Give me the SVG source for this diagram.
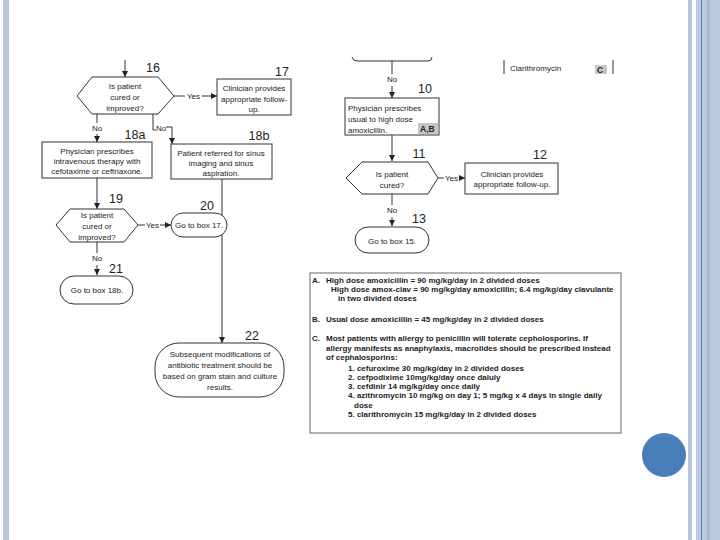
<svg xmlns="http://www.w3.org/2000/svg" width="720" height="540" viewBox="0 0 720 540">
<style>
.t{font-family:"Liberation Sans",Arial,sans-serif;font-size:8px;fill:#222;text-anchor:middle}
.tl{font-family:"Liberation Sans",Arial,sans-serif;font-size:8px;fill:#222}
.n{font-family:"Liberation Sans",Arial,sans-serif;font-size:12.5px;fill:#222;text-anchor:middle}
.nb{font-family:"Liberation Sans",Arial,sans-serif;font-size:8px;font-weight:bold;fill:#222}
.s{fill:#fff;stroke:#333;stroke-width:1}
.c{fill:none;stroke:#333;stroke-width:1}
.a{fill:none;stroke:#333;stroke-width:1;marker-end:url(#ah)}
.lab{fill:#c6c6c6}
</style>
<defs>
<marker id="ah" markerWidth="6" markerHeight="6" refX="6" refY="3" orient="auto" markerUnits="userSpaceOnUse">
<path d="M0,0 L6,3 L0,6 z" fill="#222"/>
</marker>
</defs>
<rect width="720" height="540" fill="#fff"/>
<g id="frame">
<rect x="3" y="0" width="6" height="540" fill="#b8c5da"/>
<rect x="688" y="0" width="4" height="540" fill="#b8c5da"/>
<rect x="696" y="0" width="24" height="540" fill="#bccae0"/>
<rect x="707" y="0" width="3" height="540" fill="#a9b9d3"/>
<rect x="701" y="0" width="1" height="540" fill="#5b7db5"/>
<circle cx="664" cy="455" r="22" fill="#4a7ebb"/>
</g>
<g id="connectors">
<line class="a" x1="125" y1="60" x2="125" y2="77"/>
<line class="c" x1="174" y1="96" x2="185" y2="96"/>
<line class="a" x1="202" y1="96" x2="217" y2="96"/>
<text class="t" x="193.5" y="99">Yes</text>
<line class="c" x1="97" y1="114" x2="97" y2="123"/>
<text class="t" x="97" y="131">No</text>
<line class="a" x1="97" y1="134" x2="97" y2="142"/>
<path class="c" d="M153,114 V130 H156"/>
<text class="t" x="161" y="131">No</text>
<path class="a" d="M166,127 H172 V144"/>
<line class="a" x1="97" y1="178" x2="97" y2="209"/>
<line class="c" x1="138" y1="225" x2="145" y2="225"/>
<line class="a" x1="160" y1="225" x2="171" y2="225"/>
<text class="t" x="152.5" y="228">Yes</text>
<line class="c" x1="97" y1="242" x2="97" y2="253"/>
<text class="t" x="97" y="261">No</text>
<line class="a" x1="97" y1="265" x2="97" y2="275"/>
<line class="a" x1="222" y1="179" x2="222" y2="343"/>
<path class="c" d="M352,57 Q353,61 357,61 H428 Q432,61 432,57"/>
<line class="c" x1="392" y1="61" x2="392" y2="74"/>
<text class="t" x="392" y="82">No</text>
<line class="a" x1="392" y1="86" x2="392" y2="98"/>
<line class="a" x1="392" y1="135" x2="392" y2="161"/>
<line class="c" x1="438" y1="178" x2="444" y2="178"/>
<line class="a" x1="459" y1="178" x2="465" y2="178"/>
<text class="t" x="451.5" y="181">Yes</text>
<line class="c" x1="392" y1="194" x2="392" y2="205"/>
<text class="t" x="392" y="213">No</text>
<line class="a" x1="392" y1="217" x2="392" y2="226"/>
</g>
<g id="n16">
<polygon class="s" points="77,96 92,77 158,77 174,96 158,114 92,114"/>
<text class="t" x="125" y="89">Is patient</text>
<text class="t" x="125" y="100">cured or</text>
<text class="t" x="125" y="111">improved?</text>
<text class="n" x="153" y="72">16</text>
</g>
<g id="n17">
<rect class="s" x="217" y="79" width="74" height="36"/>
<text class="t" x="254" y="91">Clinician provides</text>
<text class="t" x="254" y="102">appropriate follow-</text>
<text class="t" x="254" y="112">up.</text>
<text class="n" x="282" y="76">17</text>
</g>
<g id="n18a">
<rect class="s" x="42" y="142" width="110" height="36"/>
<text class="t" x="97" y="154">Physician prescribes</text>
<text class="t" x="97" y="164">intravenous therapy with</text>
<text class="t" x="97" y="174">cefotaxime or ceftriaxone.</text>
<text class="n" x="135" y="139">18a</text>
</g>
<g id="n18b">
<rect class="s" x="171" y="144" width="101" height="35"/>
<text class="t" x="221" y="156">Patient referred for sinus</text>
<text class="t" x="221" y="166">imaging and sinus</text>
<text class="t" x="221" y="176">aspiration.</text>
<text class="n" x="259" y="140">18b</text>
</g>
<g id="n19">
<polygon class="s" points="56,225 70,209 124,209 138,225 124,242 70,242"/>
<text class="t" x="97" y="218">Is patient</text>
<text class="t" x="97" y="229">cured or</text>
<text class="t" x="97" y="240">improved?</text>
<text class="n" x="116" y="203">19</text>
</g>
<g id="n20">
<rect class="s" x="171" y="213" width="56" height="24" rx="12"/>
<text class="t" x="199" y="228">Go to box 17.</text>
<text class="n" x="207" y="210">20</text>
</g>
<g id="n21">
<rect class="s" x="60" y="276" width="73" height="28" rx="14"/>
<text class="t" x="97" y="293">Go to box 18b.</text>
<text class="n" x="116" y="273">21</text>
</g>
<g id="n22">
<rect class="s" x="155" y="343" width="129" height="54" rx="24"/>
<text class="t" x="220" y="357">Subsequent modifications of</text>
<text class="t" x="220" y="368">antibiotic treatment should be</text>
<text class="t" x="220" y="379">based on gram stain and culture</text>
<text class="t" x="220" y="390">results.</text>
<text class="n" x="252" y="340">22</text>
</g>
<g id="clarithro">
<path class="c" d="M504,60 V74 M613,60 V74" stroke="#666"/>
<text class="tl" x="510" y="71">Clarithromycin</text>
<rect class="lab" x="595" y="65" width="12" height="9"/>
<text class="nb" x="597" y="72.5" style="font-size:8.5px">C</text>
</g>
<g id="n10">
<rect class="s" x="345" y="98" width="94" height="37"/>
<text class="tl" x="348" y="111">Physician prescribes</text>
<text class="tl" x="348" y="122">usual to high dose</text>
<text class="tl" x="348" y="133">amoxicillin.</text>
<rect class="lab" x="418" y="123" width="20" height="11"/>
<text class="nb" x="420" y="132" style="font-size:8.5px">A,B</text>
<text class="n" x="425" y="93">10</text>
</g>
<g id="n11">
<polygon class="s" points="346,178 362,162 428,162 438,178 428,194 362,194"/>
<text class="t" x="392" y="177">Is patient</text>
<text class="t" x="392" y="188">cured?</text>
<text class="n" x="419" y="158">11</text>
</g>
<g id="n12">
<rect class="s" x="465" y="163" width="93" height="31"/>
<text class="t" x="512" y="177">Clinician provides</text>
<text class="t" x="512" y="187">appropriate follow-up.</text>
<text class="n" x="540" y="159">12</text>
</g>
<g id="n13">
<rect class="s" x="355" y="227" width="74" height="26" rx="13"/>
<text class="t" x="392" y="244">Go to box 15.</text>
<text class="n" x="419" y="223">13</text>
</g>
<g id="notes">
<rect x="310" y="273" width="311" height="160" fill="#fff" stroke="#666" stroke-width="1"/>
<text class="nb" x="312" y="283">A.</text>
<text class="nb" x="326" y="283">High dose amoxicillin = 90 mg/kg/day in 2 divided doses</text>
<text class="nb" x="331" y="292">High dose amox-clav = 90 mg/kg/day amoxicillin; 6.4 mg/kg/day clavulante</text>
<text class="nb" x="338" y="301">in two divided doses</text>
<text class="nb" x="312" y="322">B.</text>
<text class="nb" x="326" y="322">Usual dose amoxicillin = 45 mg/kg/day in 2 divided doses</text>
<text class="nb" x="312" y="341">C.</text>
<text class="nb" x="326" y="341">Most patients with allergy to penicillin will tolerate cepholosporins.  If</text>
<text class="nb" x="326" y="351">allergy manifests as anaphylaxis, macrolides should be prescribed instead</text>
<text class="nb" x="326" y="360">of cephalosporins:</text>
<text class="nb" x="348" y="371">1. cefuroxime 30 mg/kg/day in 2 divided doses</text>
<text class="nb" x="348" y="380">2. cefpodixime 10mg/kg/day once daluly</text>
<text class="nb" x="348" y="389">3. cefdinir 14 mg/kg/day once daily</text>
<text class="nb" x="348" y="398">4. azithromycin 10 mg/kg on day 1; 5 mg/kg x 4 days in single daily</text>
<text class="nb" x="354" y="408">dose</text>
<text class="nb" x="348" y="417">5. clarithromycin 15 mg/kg/day in 2 divided doses</text>
</g>
</svg>
